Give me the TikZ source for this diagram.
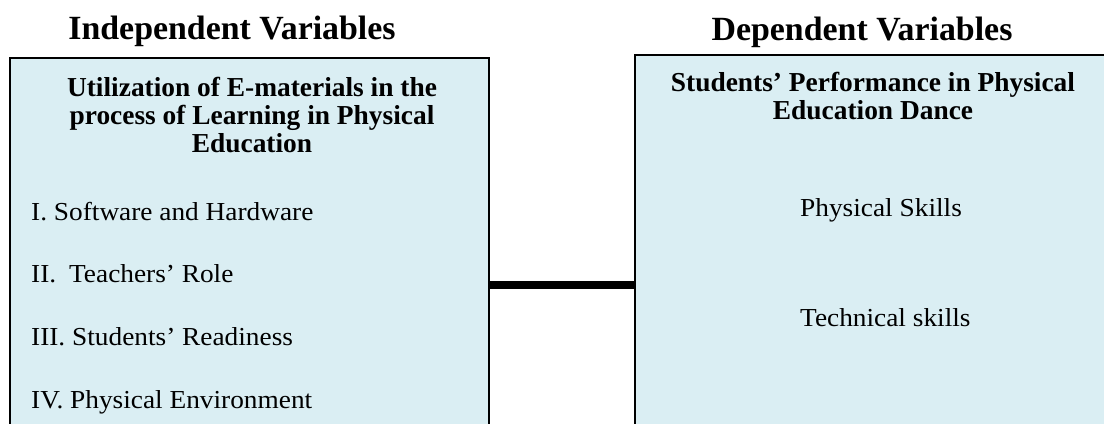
\documentclass[tikz,border=0pt]{standalone}
\usepackage{fontspec}
\setmainfont{Liberation Serif}
\newfontfamily\itemfont[FakeStretch=1.055]{Liberation Serif}
\definecolor{boxfill}{HTML}{DAEEF3}
\begin{document}
\begin{tikzpicture}[x=1bp,y=-1bp,
  titletext/.style={font=\fontsize{34}{34}\selectfont\bfseries, inner sep=0pt, anchor=base},
  headtext/.style={font=\fontsize{27.5}{28}\selectfont\bfseries, inner sep=0pt, align=center, anchor=north},
  itemtext/.style={font=\fontsize{26}{26}\selectfont\itemfont, inner sep=0pt, anchor=base west},
  varbox/.style={fill=boxfill, inner sep=0pt, anchor=north west},
  frame/.style={line width=2bp, draw=black},
  link/.style={line width=8bp, draw=black}]
\useasboundingbox (0,0) rectangle (1104,423);
% boxes
\node[varbox, minimum width=479bp, minimum height=370bp] (L) at (10,58) {};
\node[varbox, minimum width=480bp, minimum height=374bp] (R) at (635,54.5) {};
\draw[frame] (L.south west) -- (L.north west) -- (L.north east) -- (L.south east);
\draw[frame] (R.south west) -- (R.north west) -- (R.north east);
% titles
\node[titletext] (T1) at (232,39) {Independent Variables};
\node[titletext] (T2) at (862,40) {Dependent Variables};
% headers
\node[headtext] (H1) at (252,77) {Utilization of E-materials in the\\process of Learning in Physical\\Education};
\node[headtext] (H2) at (873,72) {Students’ Performance in Physical\\Education Dance};
% items left
\node[itemtext] (I1) at (31,220) {I. Software and Hardware};
\node[itemtext] (I2) at (31,282) {II.\hspace{0.5em}Teachers’ Role};
\node[itemtext] (I3) at (31,345) {III. Students’ Readiness};
\node[itemtext] (I4) at (31,408) {IV. Physical Environment};
% items right
\node[itemtext] (J1) at (800,216) {Physical Skills};
\node[itemtext] (J2) at (800,326) {Technical skills};
% connector
\coordinate (c) at (0,285);
\draw[link] (L.east |- c) -- (R.west |- c);
\end{tikzpicture}
\end{document}
